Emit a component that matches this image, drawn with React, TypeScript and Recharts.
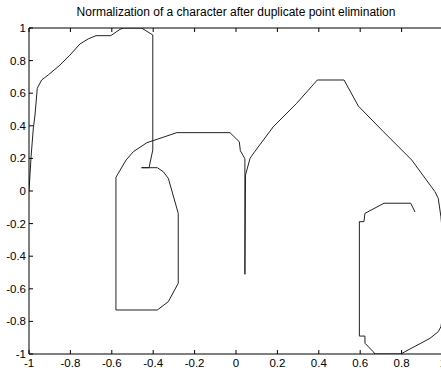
import React from "react";
import { Line, LineChart, XAxis, YAxis } from "recharts";

const title = "Normalization of a character after duplicate point elimination";

const xTicks = [-1, -0.8, -0.6, -0.4, -0.2, 0, 0.2, 0.4, 0.6, 0.8, 1];
const yTicks = [-1, -0.8, -0.6, -0.4, -0.2, 0, 0.2, 0.4, 0.6, 0.8, 1];

// stroke points, in drawing order
const pathX = [
	-1.0, -0.99, -0.979, -0.971, -0.96, -0.939, -0.907, -0.85, -0.802, -0.754,
	-0.714, -0.676, -0.605, -0.56, -0.544, -0.456, -0.402, -0.402, -0.42, -0.456,
	-0.38, -0.351, -0.327, -0.279, -0.279, -0.327, -0.38, -0.58, -0.58, -0.531,
	-0.496, -0.431, -0.286, -0.029, 0.016, 0.021, 0.043, 0.043, 0.046, 0.068,
	0.092, 0.18, 0.293, 0.393, 0.522, 0.591, 0.712, 0.849, 0.961, 0.977, 0.99,
	1.0, 1.0, 0.99, 0.977, 0.937, 0.816, 0.797, 0.671, 0.663, 0.623, 0.623,
	0.596, 0.596, 0.618, 0.623, 0.715, 0.844, 0.865,
];
const pathY = [
	0.0, 0.21, 0.387, 0.466, 0.63, 0.681, 0.712, 0.773, 0.834, 0.902, 0.933,
	0.953, 0.953, 0.992, 1.0, 1.0, 0.957, 0.252, 0.143, 0.143, 0.143, 0.118,
	0.078, -0.137, -0.566, -0.679, -0.73, -0.73, 0.084, 0.19, 0.241, 0.296,
	0.358, 0.358, 0.302, 0.247, 0.198, -0.511, 0.098, 0.201, 0.244, 0.394,
	0.538, 0.681, 0.681, 0.521, 0.364, 0.19, -0.004, -0.045, -0.158, -0.3,
	-0.75, -0.833, -0.863, -0.904, -0.986, -1.0, -1.0, -0.986, -0.934, -0.89,
	-0.89, -0.188, -0.188, -0.137, -0.075, -0.075, -0.129,
];

const points = pathX.map((x, i) => ({ x, y: pathY[i] }));

const font = "'Liberation Sans', Arial, sans-serif";
const tickStyle = { fill: "#000", fontSize: 11.5, fontFamily: font };
// box sides: tick marks only, no labels
const noLabel = () => <g />;

export default function App() {
	return (
		<div
			style={{
				position: "absolute",
				left: 0,
				top: 0,
				width: 441,
				height: 371,
				overflow: "hidden",
				background: "#fff",
			}}
		>
			<div
				style={{
					position: "absolute",
					left: 29,
					top: 5,
					width: 414,
					textAlign: "center",
					fontFamily: font,
					fontSize: 12,
					color: "#000",
					whiteSpace: "nowrap",
				}}
			>
				{title}
			</div>
			<LineChart
				width={444}
				height={371}
				data={points}
				margin={{ top: 27, right: 0, bottom: 0, left: 0 }}
			>
				<XAxis
					dataKey="x"
					type="number"
					domain={[-1, 1]}
					ticks={xTicks}
					interval={0}
					allowDataOverflow
					height={17}
					tickSize={-4}
					tickMargin={9}
					axisLine={{ stroke: "#000" }}
					tickLine={{ stroke: "#000" }}
					tick={tickStyle}
				/>
				<XAxis
					xAxisId="top"
					orientation="top"
					dataKey="x"
					type="number"
					domain={[-1, 1]}
					ticks={xTicks}
					interval={0}
					height={1}
					tickSize={-4}
					tick={noLabel}
					axisLine={{ stroke: "#000" }}
					tickLine={{ stroke: "#000" }}
				/>
				<YAxis
					type="number"
					domain={[-1, 1]}
					ticks={yTicks}
					interval={0}
					allowDataOverflow
					width={29}
					tickSize={-4}
					tickMargin={7}
					axisLine={{ stroke: "#000" }}
					tickLine={{ stroke: "#000" }}
					tick={tickStyle}
				/>
				<YAxis
					yAxisId="right"
					orientation="right"
					type="number"
					domain={[-1, 1]}
					ticks={yTicks}
					interval={0}
					width={1}
					tickSize={-4}
					tick={noLabel}
					axisLine={{ stroke: "#000" }}
					tickLine={{ stroke: "#000" }}
				/>
				<Line
					dataKey="y"
					type="linear"
					stroke="#222"
					strokeWidth={1}
					dot={false}
					isAnimationActive={false}
				/>
			</LineChart>
		</div>
	);
}
